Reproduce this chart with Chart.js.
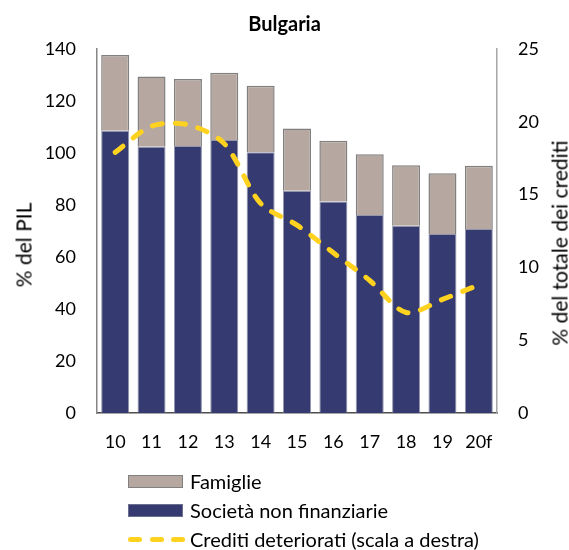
<!DOCTYPE html>
<html>
<head>
<meta charset="utf-8">
<script src="https://cdn.jsdelivr.net/npm/chart.js@4/dist/chart.umd.min.js"></script>
<style>
  html, body { margin: 0; padding: 0; background: #fff; }
  #wrap { position: relative; width: 569px; height: 550px; font-family: Lato, sans-serif; color: #000; overflow: hidden; }
  canvas { position: absolute; left: 0; top: 0; }
  .ytitle { position: absolute; font-size: 21px; white-space: nowrap; transform: translate(-50%, -50%) rotate(-90deg); }
  .leg { position: absolute; left: 128px; font-size: 20px; white-space: nowrap; display: flex; align-items: center; }
  .box { width: 55px; height: 13px; box-sizing: border-box; margin-right: 7px; }
  .dash { display: flex; width: 57px; justify-content: space-between; margin-right: 5px; }
  .dash span { display: block; width: 14px; height: 5px; border-radius: 3px; background: #FFD21F; }
</style>
</head>
<body>
<div id="wrap">
  <canvas id="c" width="569" height="550"></canvas>
  <div class="ytitle" style="left:23px; top:245px;">% del PIL</div>
  <div class="ytitle" style="left:559px; top:243px;">% del totale dei crediti</div>
  <div class="leg" style="top:469px;"><div class="box" style="background:#B6A8A0;border:1.5px solid #808080;"></div>Famiglie</div>
  <div class="leg" style="top:498px;"><div class="box" style="background:#353A70;border:1px solid #6b6e8e;"></div>Società non finanziarie</div>
  <div class="leg" style="top:527px;"><div class="dash"><span></span><span></span><span></span></div>Crediti deteriorati (scala a destra)</div>
</div>
<script>
const categories = ['10', '11', '12', '13', '14', '15', '16', '17', '18', '19', '20f'];
const societa = [108.6, 102.4, 102.7, 105.0, 100.3, 85.5, 81.3, 76.2, 72.0, 68.8, 70.8];
const famiglie = [29.1, 27.0, 25.8, 25.9, 25.6, 23.9, 23.4, 23.3, 23.3, 23.4, 24.3];
const crediti = [17.9, 19.7, 19.8, 18.5, 14.4, 12.9, 11.0, 9.1, 6.9, 7.8, 8.8];
const leftTicks = [0, 140, 20];
const rightTicks = [0, 25, 5];

const font = { family: 'Lato, sans-serif', size: 18 };

new Chart(document.getElementById('c'), {
  data: {
    labels: categories,
    datasets: [
      {
        type: 'line', label: 'Crediti deteriorati (scala a destra)', data: crediti, yAxisID: 'y1',
        borderColor: '#FFD21F', borderWidth: 5, borderDash: [10, 13], borderCapStyle: 'round',
        tension: 0.3, pointRadius: 0, fill: false, order: 0
      },
      {
        type: 'bar', label: 'Società non finanziarie', data: societa, yAxisID: 'y',
        backgroundColor: '#353A70', borderColor: 'rgba(120,122,150,0.8)', borderWidth: 1,
        categoryPercentage: 1, barPercentage: 0.77, order: 1
      },
      {
        type: 'bar', label: 'Famiglie', data: famiglie, yAxisID: 'y',
        backgroundColor: '#B6A8A0', borderColor: '#808080', borderWidth: 1.5,
        categoryPercentage: 1, barPercentage: 0.77, order: 1
      }
    ]
  },
  options: {
    responsive: false,
    animation: false,
    layout: { padding: 0 },
    plugins: {
      legend: { display: false },
      tooltip: { enabled: false },
      title: {
        display: true, text: 'Bulgaria', color: '#000',
        font: { family: 'Lato, sans-serif', size: 20, weight: 'bold' },
        padding: { top: 13, bottom: 12 }
      }
    },
    scales: {
      x: {
        stacked: true,
        grid: { display: false, drawTicks: false },
        border: { display: true, color: '#4d4d4d', width: 1.5 },
        ticks: { color: '#000', font: font, padding: 18, maxRotation: 0 },
        afterFit: s => { s.height = 137; }
      },
      y: {
        stacked: true, position: 'left',
        min: leftTicks[0], max: leftTicks[1],
        grid: { display: false, drawTicks: false },
        border: { display: true, color: '#868686', width: 1.5 },
        ticks: { stepSize: leftTicks[2], color: '#000', font: font, padding: 21 },
        afterFit: s => { s.width = 97; }
      },
      y1: {
        position: 'right',
        min: rightTicks[0], max: rightTicks[1],
        grid: { display: false, drawTicks: false },
        border: { display: true, color: '#a6a6a6', width: 1.5 },
        ticks: { stepSize: rightTicks[2], color: '#000', font: font, padding: 21 },
        afterFit: s => { s.width = 72; }
      }
    }
  }
});
</script>
</body>
</html>
